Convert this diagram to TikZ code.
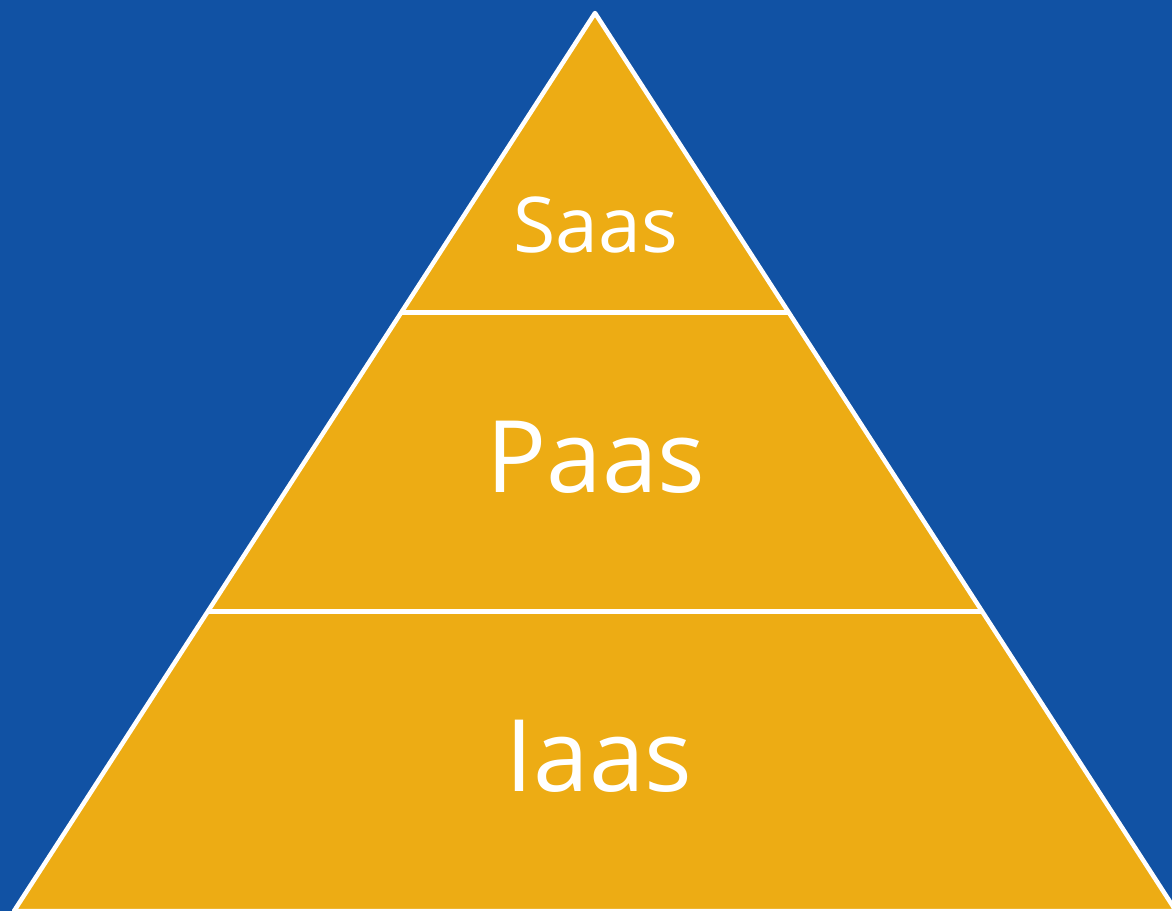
\documentclass[tikz,border=0pt]{standalone}
\usepackage{fontspec}
\setmainfont{Open Sans}
\usetikzlibrary{calc}
\definecolor{pyrblue}{HTML}{1152A4}
\definecolor{pyrgold}{HTML}{EDAC14}
\begin{document}
\begin{tikzpicture}[x=1pt, y=-1pt]
                \tikzstyle{tier} = [draw=white, line width=4.5pt, line join=round]
                \tikzstyle{tiertext} = [text=white, anchor=base, inner sep=0pt]
                \fill[pyrblue] (0, 0) rectangle (1172, 911);
                \useasboundingbox (0, 0) rectangle (1172, 911);
                \clip (0, 0) rectangle (1172, 911);
                \coordinate (apex) at (595, 13);
                \coordinate (bl) at (14, 911);
                \coordinate (br) at (1176, 911);
                \draw[tier, fill=pyrgold] (apex) -- (bl) -- (br) -- cycle;
                \draw[tier] ($(apex)!1/3!(bl)$) -- ($(apex)!1/3!(br)$);
                \draw[tier] ($(apex)!2/3!(bl)$) -- ($(apex)!2/3!(br)$);
                \node[tiertext, font=\fontsize{77}{77}\selectfont] (saas) at (596, 252) {Saas};
                \node[tiertext, font=\fontsize{100}{100}\selectfont] (paas) at (596, 492) {Paas};
                \node[tiertext, font=\fontsize{100}{100}\selectfont] (iaas) at (599, 791) {Iaas};
            \end{tikzpicture}
\end{document}
